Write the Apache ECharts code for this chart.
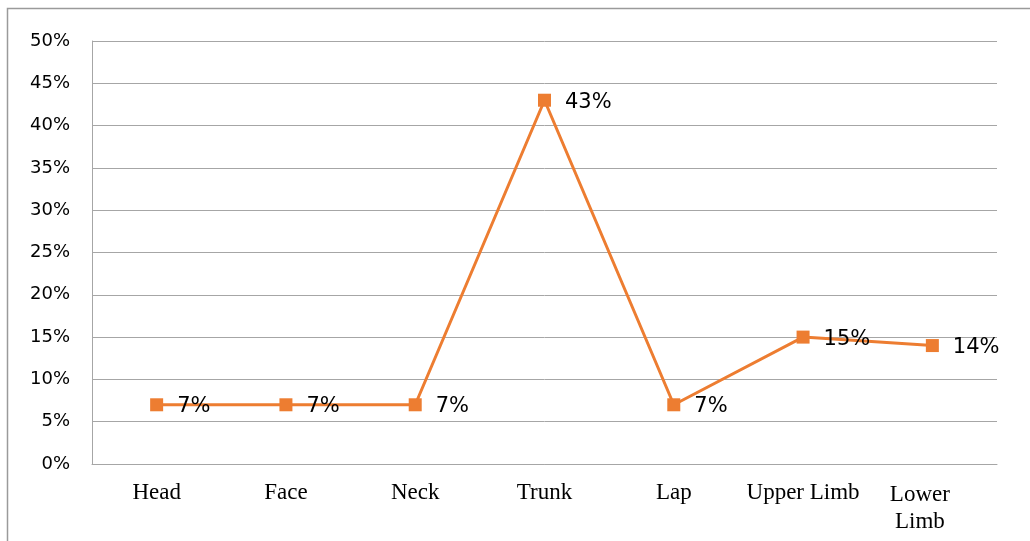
<!DOCTYPE html>
<html>
<head>
<meta charset="utf-8">
<script src="https://cdn.jsdelivr.net/npm/echarts@6/dist/echarts.min.js"></script>
<style>
  html, body { margin: 0; padding: 0; background: #fff; }
  #chart { width: 1030px; height: 541px; }
</style>
</head>
<body>
<div id="chart"></div>
<script>
const categories = ['Head', 'Face', 'Neck', 'Trunk', 'Lap', 'Upper Limb', 'Lower Limb'];
const values = [7, 7, 7, 43, 7, 15, 14];

const chart = echarts.init(document.getElementById('chart'));
chart.setOption({
    animation: false,
    graphic: [{
        type: 'rect',
        shape: { x: 7.5, y: 8.5, width: 1040, height: 560 },
        style: { fill: 'none', stroke: '#9a9a9a', lineWidth: 1.5 },
        silent: true
    }],
    grid: { left: 92, right: 33, top: 41, bottom: 77 },
    xAxis: {
        type: 'category',
        data: categories,
        boundaryGap: true,
        axisLine: { lineStyle: { color: '#a6a6a6', width: 1 } },
        axisTick: { show: false },
        axisLabel: {
            margin: 17,
            color: '#000',
            fontFamily: 'Liberation Serif',
            fontSize: 23,
            interval: 0,
            formatter: function (v) {
                return v === 'Lower Limb' ? '{l|Lower}\n{l|Limb}' : v;
            },
            rich: {
                l: { fontFamily: 'Liberation Serif', fontSize: 23, color: '#000', lineHeight: 27, padding: [0, 25, 0, 0] }
            }
        }
    },
    yAxis: {
        type: 'value',
        min: 0,
        max: 50,
        interval: 5,
        axisLine: { show: true, lineStyle: { color: '#a6a6a6', width: 1 } },
        axisTick: { show: false },
        splitLine: { lineStyle: { color: '#a6a6a6', width: 1 } },
        axisLabel: {
            margin: 22,
            color: '#000',
            fontFamily: 'DejaVu Sans',
            fontSize: 18,
            formatter: '{value}%'
        }
    },
    series: [{
        type: 'line',
        data: values,
        symbol: 'rect',
        symbolSize: 13,
        lineStyle: { color: '#ED7D31', width: 3 },
        itemStyle: { color: '#ED7D31' },
        label: {
            show: true,
            position: 'right',
            distance: 14,
            offset: [0, 2],
            color: '#000',
            fontFamily: 'DejaVu Sans',
            fontSize: 21,
            formatter: '{c}%'
        }
    }]
});
window.addEventListener('resize', function () {
    chart.resize();
});
</script>
</body>
</html>
